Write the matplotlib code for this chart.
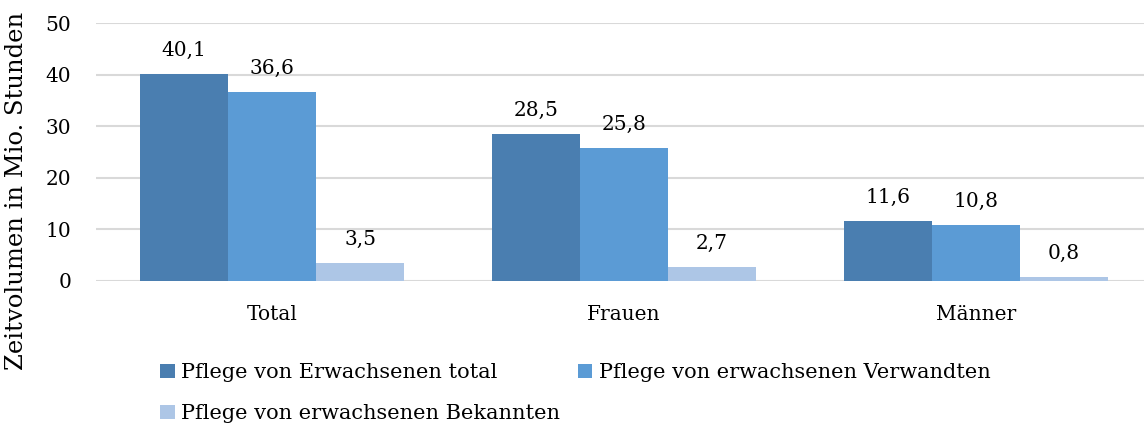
import matplotlib.pyplot as plt
import numpy as np

# data
categories = ['Total', 'Frauen', 'Männer']
series_names = ['Pflege von Erwachsenen total',
                'Pflege von erwachsenen Verwandten',
                'Pflege von erwachsenen Bekannten']
total = [40.1, 28.5, 11.6]
verwandte = [36.6, 25.8, 10.8]
bekannte = [3.5, 2.7, 0.8]
colors = ['#4a7eb0', '#5b9bd5', '#adc6e6']

plt.rcParams['font.family'] = ['DejaVu Serif']

fig = plt.figure(figsize=(11.44, 4.29), dpi=100)
ax = fig.add_axes([96 / 1144, 148 / 429, 1 - 96 / 1144, 258 / 429])

x = np.arange(len(categories))
w = 0.25
handles = []
for i, vals in enumerate([total, verwandte, bekannte]):
    bars = ax.bar(x + (i - 1) * w, vals, w, color=colors[i], label=series_names[i], zorder=3)
    handles.append(bars)
    for b, v in zip(bars, vals):
        ax.annotate(f'{v:.1f}'.replace('.', ','), (b.get_x() + b.get_width() / 2, v),
                    xytext=(0, 10), textcoords='offset points',
                    ha='center', va='bottom', fontsize=14.5)

ax.set_xlim(-0.5, 2.5 - 8 / 352)
ax.set_ylim(0, 50)
ax.set_yticks(range(0, 51, 10))
ax.set_xticks(x)
ax.set_xticklabels(categories)
ax.grid(axis='y', color='#d9d9d9', linewidth=1.5, zorder=0)
for s in ax.spines.values():
    s.set_visible(False)
ax.tick_params(axis='both', length=0, labelsize=14.5)
ax.tick_params(axis='x', pad=17)
ax.tick_params(axis='y', pad=18)
ax.set_ylabel('Zeitvolumen in Mio. Stunden', fontsize=17.5)
ax.yaxis.set_label_coords(-0.065, 0.35)

# row-major order like the reference legend
leg_handles = [handles[0], handles[2], handles[1]]
fig.legend(handles=leg_handles, loc='upper left', bbox_to_anchor=(152 / 1144, 1 - 355 / 429),
           ncol=2, frameon=False, fontsize=15, handlelength=0.7, handleheight=0.7,
           handletextpad=0.3, columnspacing=0.85, labelspacing=1.05, borderaxespad=0)

fig.savefig('out.png', dpi=100)
